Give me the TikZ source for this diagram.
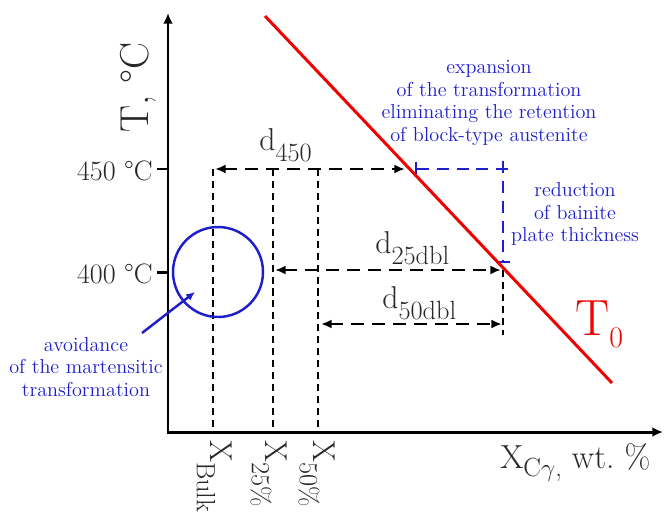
\documentclass[tikz,border=0pt]{standalone}
\usetikzlibrary{arrows.meta}
\definecolor{azul}{RGB}{30,30,205}
\definecolor{rojo}{RGB}{240,0,0}
\definecolor{gris}{RGB}{40,40,40}
\newcommand{\subi}[3]{\raisebox{-#1}{\fontsize{#2}{#2}\selectfont #3}}
\begin{document}
\begin{tikzpicture}[x=0.02cm, y=-0.02cm]
\tikzstyle{eje}=[line width=1.7pt]
\tikzstyle{cota}=[line width=1.6pt, dash pattern=on 7.4pt off 4.5pt, {Latex[length=6pt,width=5pt]}-{Latex[length=6pt,width=5pt]}]
\tikzstyle{guia}=[line width=0.6pt, dash pattern=on 4pt off 2.8pt]
\tikzstyle{azulcota}=[azul, line width=1.4pt, dash pattern=on 6.8pt off 4.5pt]
\tikzstyle{etiq}=[text=gris, inner sep=0]
\tikzstyle{nota}=[text=azul, align=center, inner sep=0, font=\fontsize{11.5}{13}\selectfont]
\useasboundingbox (0,0) rectangle (665,521);

\coordinate (O) at (168,432); \coordinate (ytop) at (168,13); \coordinate (xend) at (663,432);
\coordinate (bulkA) at (213,169); \coordinate (bulkB) at (213,432);
\coordinate (p25A) at (273,169); \coordinate (p25B) at (273,432);
\coordinate (p50A) at (318,169); \coordinate (p50B) at (318,432);
\coordinate (d450ini) at (215,169); \coordinate (d450fin) at (405,169);
\coordinate (d25ini) at (275,270); \coordinate (d25fin) at (501,270);
\coordinate (d50ini) at (321,324); \coordinate (d50fin) at (502,324);
\coordinate (v503A) at (503,270); \coordinate (v503B) at (503,335);
\coordinate (t0ini) at (265,16); \coordinate (t0fin) at (612,383);
\coordinate (expA) at (415,169); \coordinate (expB) at (509,169);
\coordinate (redA) at (503,161); \coordinate (redB) at (503,263);
\coordinate (cmart) at (218,272);
\coordinate (flechaA) at (142,333); \coordinate (flechaB) at (195,292);

% ejes
\draw[eje, {Latex[length=6pt,width=5.5pt]}-{Latex[length=6pt,width=5.5pt]}] (ytop) -- (O) -- (xend);
\draw[eje] (157,169) -- (168,169);
\draw[eje] (157,272) -- (168,272);
\node[etiq, anchor=base east, font=\fontsize{16}{18}\selectfont] (t450) at (153,180) {450 °C};
\node[etiq, anchor=base east, font=\fontsize{16}{18}\selectfont] (t400) at (153,283) {400 °C};
\node[etiq, rotate=90, anchor=base west, font=\fontsize{23}{26}\selectfont] (ylab) at (148,133) {T, °C};
\node[etiq, anchor=base west, font=\fontsize{19}{21}\selectfont] (xlab) at (500,468) {X\subi{5pt}{15}{C$\gamma$,}~wt.~\%};

% composiciones
\draw[guia] (bulkA) -- (bulkB);
\draw[guia] (p25A) -- (p25B);
\draw[guia] (p50A) -- (p50B);
\draw[guia] (v503A) -- (v503B);
\node[etiq, rotate=-90, anchor=base west, font=\fontsize{18}{20}\selectfont] (xbulk) at (210,440) {X\subi{7.5pt}{15}{Bulk}};
\node[etiq, rotate=-90, anchor=base west, font=\fontsize{18}{20}\selectfont] (x25) at (265,440) {X\subi{7.5pt}{15}{25\%}};
\node[etiq, rotate=-90, anchor=base west, font=\fontsize{18}{20}\selectfont] (x50) at (313,440) {X\subi{7.5pt}{15}{50\%}};

\draw[cota] (d450ini) -- (d450fin);
\draw[cota] (d25ini) -- (d25fin);
\draw[cota] (d50ini) -- (d50fin);
\node[etiq, anchor=base west, font=\fontsize{18}{20}\selectfont] (d450) at (259,150) {d\subi{6.5pt}{15}{450}};
\node[etiq, anchor=base west, font=\fontsize{18}{20}\selectfont] (d25) at (375,253) {d\subi{6.5pt}{15}{25dbl}};
\node[etiq, anchor=base west, font=\fontsize{18}{20}\selectfont] (d50) at (382,308) {d\subi{6.5pt}{15}{50dbl}};

% mejoras
\draw[azulcota, {Bar[width=8pt]}-] (expA) -- (expB);
\draw[azulcota, -{Bar[width=8pt]}] (redA) -- (redB);
\node[nota] (exp) at (489,103) {expansion\\of the transformation\\eliminating the retention\\of block-type austenite};
\node[nota] (red) at (575,214) {reduction\\of bainite\\plate thickness};
\draw[azul, line width=1.4pt] (cmart) circle[radius=45];
\draw[azul, line width=1.4pt, -{Latex[length=5pt,width=4.5pt]}] (flechaA) -- (flechaB);
\node[nota] (mart) at (86,367) {avoidance\\of the martensitic\\transformation};

\draw[rojo, line width=1.7pt] (t0ini) -- (t0fin);
\node[text=rojo, inner sep=0, anchor=base west, font=\fontsize{29}{32}\selectfont] (T0) at (575,335) {T\subi{7pt}{17}{0}};
\end{tikzpicture}
\end{document}
